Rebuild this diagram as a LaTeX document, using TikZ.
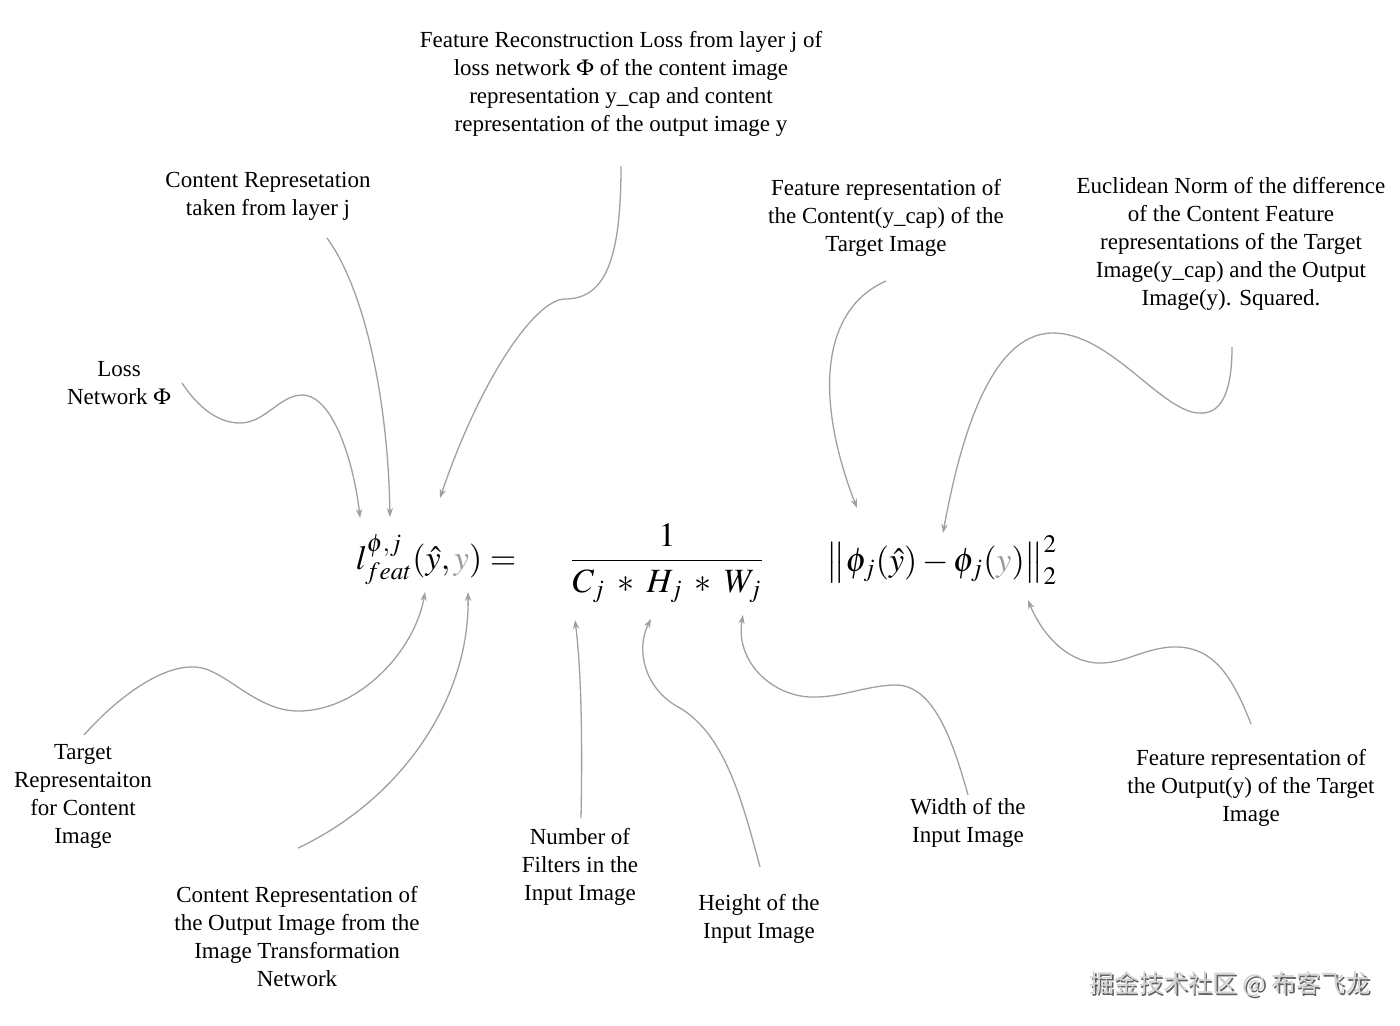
\documentclass[tikz,border=0pt]{standalone}
\usepackage{mathptmx}
\usepackage{fontspec}
\setmainfont{Liberation Serif}
\newfontfamily\cjk{Noto Sans CJK SC}
\usetikzlibrary{arrows.meta}
\definecolor{ygray}{HTML}{9A9A9A}
\definecolor{lgray}{HTML}{A0A0A0}
\begin{document}
\begin{tikzpicture}[x=0.5pt,y=-0.5pt,
  lbl/.style={align=center, font=\fontsize{11.5}{14}\selectfont, inner sep=0pt},
  mth/.style={font=\fontsize{17}{20}\selectfont, inner sep=0pt},
  conn/.style={draw=lgray, line width=0.65pt, -{Stealth[length=4.5pt,width=3.2pt]}},
  wm/.style={font=\cjk\fontsize{12.3}{14}\selectfont, inner sep=0pt}]
\useasboundingbox[fill=white] (0,0) rectangle (1400,1025);

% labels
\node[lbl] (frl) at (621,84) {Feature Reconstruction Loss from layer j of\\loss network $\Phi$ of the content image\\representation y\_cap and content\\representation of the output image y};
\node[lbl] (crl) at (268,196) {Content Represetation\\taken from layer j};
\node[lbl] (lnl) at (119,383) {Loss\\Network $\Phi$};
\node[lbl] (fcl) at (886,218) {Feature representation of\\the Content(y\_cap) of the\\Target Image};
\node[lbl] (enl) at (1231,244) {Euclidean Norm of the difference\\of the Content Feature\\representations of the Target\\Image(y\_cap) and the Output\\Image(y). Squared.};
\node[lbl] (trl) at (83,796) {Target\\Representaiton\\for Content\\Image};
\node[lbl] (col) at (297,936) {Content Representation of\\the Output Image from the\\Image Transformation\\Network};
\node[lbl] (nfl) at (580,867) {Number of\\Filters in the\\Input Image};
\node[lbl] (hl) at (759,919) {Height of the\\Input Image};
\node[lbl] (wl) at (968,823) {Width of the\\Input Image};
\node[lbl] (fol) at (1251,788) {Feature representation of\\the Output(y) of the Target\\Image};

% formula
\node[mth] (lhs) at (436,560) {$l^{\phi,j}_{feat}(\hat{y},{\color{ygray}y}) =$};
\node[mth] (frac) at (667,563) {$\displaystyle\frac{1}{C_j \;\ast\; H_j \;\ast\; W_j}$};
\node[mth] (norm) at (942,560) {$\big\|\phi_j(\hat{y}) - \phi_j({\color{ygray}y})\big\|_2^2$};

% watermark
\node[wm, text=gray!75!black] (wms) at (1231.5,986) {掘金技术社区 @ 布客飞龙};
\node[wm, text=gray!35] (wmt) at (1230,984.5) {掘金技术社区 @ 布客飞龙};

% connectors
\coordinate (lnS) at (182,383); \coordinate (lnT) at (360,518);
\draw[conn] (lnS) .. controls (200,410) and (220,423) .. (240,423) .. controls (265,423) and (280,395) .. (302,395) .. controls (335,395) and (355,470) .. (lnT);

\coordinate (crS) at (327,238); \coordinate (crT) at (390,517);
\draw[conn] (crS) .. controls (365,290) and (388,400) .. (crT);

\coordinate (frS) at (621,166); \coordinate (frT) at (440,498);
\draw[conn] (frS) .. controls (621,260) and (605,299) .. (565,299) .. controls (535,299) and (480,380) .. (frT);

\coordinate (fcS) at (886,281); \coordinate (fcT) at (857,508);
\draw[conn] (fcS) .. controls (820,310) and (815,400) .. (fcT);

\coordinate (enS) at (1232,347); \coordinate (enT) at (943,533);
\draw[conn] (enS) .. controls (1232,395) and (1220,415) .. (1198,413) .. controls (1160,410) and (1110,333) .. (1053,333) .. controls (990,333) and (960,440) .. (enT);

\coordinate (trS) at (84,735); \coordinate (trT) at (425,592);
\draw[conn] (trS) .. controls (115,700) and (160,665) .. (195,667) .. controls (225,668) and (255,712) .. (300,711) .. controls (360,710) and (415,650) .. (trT);

\coordinate (coS) at (298,848); \coordinate (coT) at (468,592);
\draw[conn] (coS) .. controls (400,800) and (470,700) .. (coT);

\coordinate (nfS) at (581,818); \coordinate (nfT) at (575,620);
\draw[conn] (nfS) .. controls (583,720) and (580,660) .. (nfT);

\coordinate (hS) at (760,867); \coordinate (hT) at (651,619);
\draw[conn] (hS) .. controls (742,800) and (725,735) .. (680,708) .. controls (645,690) and (635,650) .. (hT);

\coordinate (wS) at (968,795); \coordinate (wT) at (743,615);
\draw[conn] (wS) .. controls (950,730) and (930,683) .. (893,685) .. controls (860,687) and (840,698) .. (810,697) .. controls (770,695) and (735,660) .. (wT);

\coordinate (foS) at (1251,724); \coordinate (foT) at (1028,600);
\draw[conn] (foS) .. controls (1230,670) and (1210,645) .. (1170,647) .. controls (1140,650) and (1125,663) .. (1100,663) .. controls (1065,663) and (1040,630) .. (foT);
\end{tikzpicture}
\end{document}
